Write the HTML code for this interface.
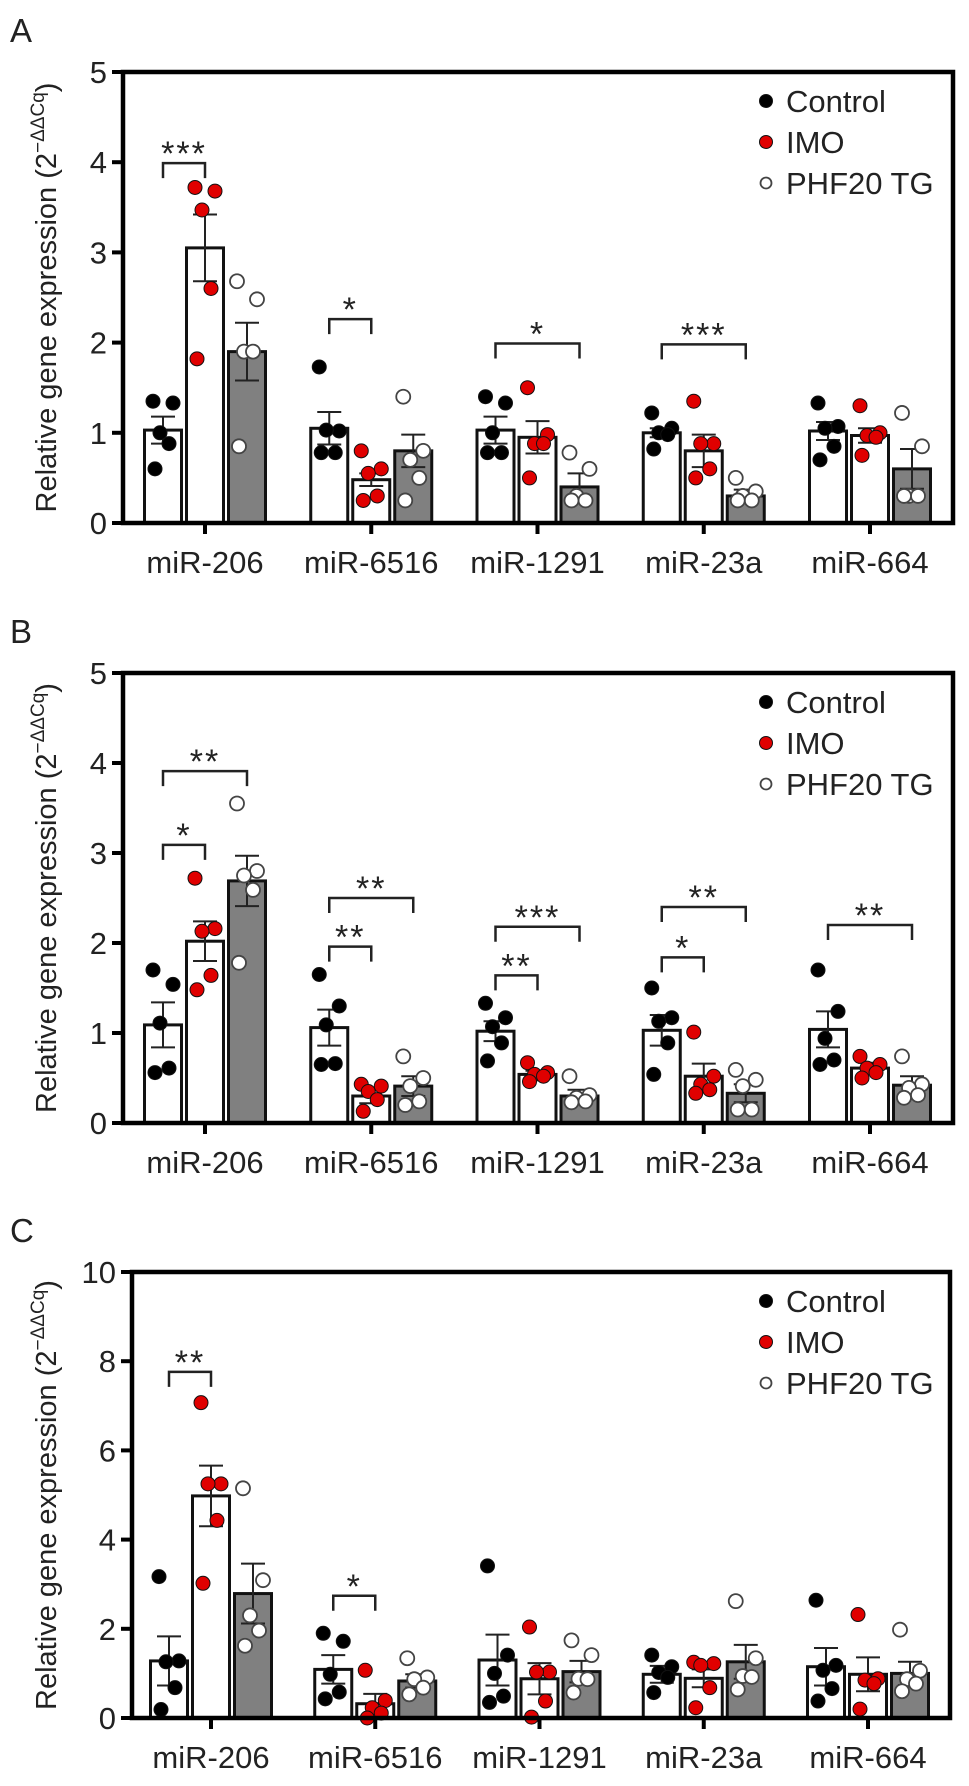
<!DOCTYPE html>
<html><head><meta charset="utf-8">
<style>
html,body{margin:0;padding:0;background:#fff;}
svg{display:block;font-family:"Liberation Sans",Arial,sans-serif;}
</style></head>
<body>
<svg id="fig" width="969" height="1786" viewBox="0 0 969 1786" xmlns="http://www.w3.org/2000/svg"></svg>
<script>
const categories = ["miR-206","miR-6516","miR-1291","miR-23a","miR-664"];
const groups = ["Control","IMO","PHF20 TG"];

// Panel A
const aMeans = [[1.03,3.05,1.9],[1.05,0.48,0.8],[1.03,0.95,0.4],[1.0,0.8,0.3],[1.02,0.97,0.6]];
const aSem = [[0.15,0.37,0.32],[0.18,0.07,0.18],[0.15,0.18,0.15],[0.05,0.18,0.07],[0.1,0.08,0.22]];
const aPoints = [
 [[1.35,1.33,1.0,0.88,0.6],[3.72,3.68,3.47,2.6,1.82],[2.68,2.48,1.9,1.9,0.85]],
 [[1.73,1.02,1.03,0.78,0.78],[0.8,0.6,0.55,0.3,0.25],[1.4,0.8,0.7,0.5,0.25]],
 [[1.4,1.33,1.0,0.78,0.78],[1.5,0.98,0.88,0.88,0.5],[0.78,0.6,0.3,0.25,0.25]],
 [[1.22,1.05,1.0,0.98,0.82],[1.35,0.88,0.88,0.6,0.5],[0.5,0.35,0.3,0.25,0.25]],
 [[1.33,1.07,1.05,0.85,0.7],[1.3,1.0,0.97,0.95,0.75],[1.22,0.85,0.3,0.3,0.3]]];
const aSig = [[0,1,3.99,"***"],[1,1,2.26,"*"],[2,2,1.99,"*"],[3,2,1.98,"***"]];
const aTicks = [0,1,2,3,4,5];

// Panel B
const bMeans = [[1.09,2.02,2.69],[1.06,0.30,0.41],[1.02,0.54,0.30],[1.03,0.52,0.33],[1.04,0.61,0.42]];
const bSem = [[0.25,0.22,0.28],[0.2,0.08,0.11],[0.11,0.04,0.07],[0.17,0.14,0.1],[0.2,0.06,0.1]];
const bPoints = [
 [[1.70,1.54,1.11,0.61,0.56],[2.72,2.16,2.13,1.64,1.48],[3.55,2.8,2.75,2.59,1.78]],
 [[1.65,1.3,1.09,0.66,0.65],[0.43,0.41,0.35,0.26,0.13],[0.74,0.5,0.41,0.24,0.2]],
 [[1.33,1.17,1.07,0.89,0.69],[0.67,0.56,0.54,0.52,0.46],[0.52,0.31,0.28,0.24,0.23]],
 [[1.5,1.17,1.13,0.89,0.54],[1.01,0.52,0.43,0.37,0.33],[0.59,0.48,0.41,0.15,0.15]],
 [[1.7,1.24,0.94,0.7,0.65],[0.74,0.65,0.61,0.56,0.5],[0.74,0.43,0.39,0.31,0.28]]];
const bSig = [[0,1,3.09,"*"],[0,2,3.91,"**"],[1,1,1.96,"**"],[1,2,2.5,"**"],[2,1,1.64,"**"],[2,2,2.18,"***"],[3,1,1.84,"*"],[3,2,2.4,"**"],[4,2,2.2,"**"]];
const bTicks = [0,1,2,3,4,5];

// Panel C
const cMeans = [[1.28,4.98,2.79],[1.09,0.32,0.83],[1.30,0.88,1.04],[0.98,0.89,1.26],[1.15,0.98,1.0]];
const cSem = [[0.55,0.68,0.67],[0.32,0.22,0.15],[0.57,0.35,0.24],[0.19,0.2,0.38],[0.42,0.38,0.26]];
const cPoints = [
 [[3.17,1.28,1.26,0.68,0.19],[7.07,5.25,5.25,4.43,3.02],[5.15,3.09,2.3,1.96,1.62]],
 [[1.9,1.72,0.98,0.58,0.43],[1.07,0.39,0.23,0.11,0.0],[1.34,0.91,0.87,0.68,0.53]],
 [[3.41,1.41,1.0,0.49,0.35],[2.04,1.03,1.03,0.38,0.02],[1.74,1.41,0.88,0.87,0.57]],
 [[1.41,1.15,1.02,0.91,0.57],[1.25,1.22,1.18,0.68,0.23],[2.62,1.34,0.94,0.92,0.64]],
 [[2.64,1.18,1.07,0.66,0.38],[2.32,0.88,0.85,0.77,0.2],[1.98,1.06,0.87,0.77,0.6]]];
const cSig = [[0,1,7.76,"**"],[1,1,2.74,"*"]];
const cTicks = [0,2,4,6,8,10];

const NS = "http://www.w3.org/2000/svg";
const svg = document.getElementById("fig");
function mk(tag, attrs, parent){
  const e = document.createElementNS(NS, tag);
  for (const k in attrs) e.setAttribute(k, attrs[k]);
  (parent||svg).appendChild(e);
  return e;
}
const jitter = [-10, 10, -3, 6, -8];
const fills = ["#000","#e00000","#fff"];
const barFill = ["#fff","#fff","#808080"];

function panel(cfg){
  const g = mk("g", {});
  
  
  const {left,right,top,bottom,ymax} = cfg;
  const y = v => bottom - (v/ymax)*(bottom-top);
  const first = cfg.first, last = cfg.last;
  const xc = i => first + i*(last-first)/(categories.length-1);
  const off = 42, bw = 37;
  const L = mk("text",{x:10,y:top-30,"font-size":33,fill:"#222"},g);
  L.textContent = cfg.letter;
  
  
  for (let i=0;i<categories.length;i++){
    for (let j=0;j<3;j++){
      const cx = xc(i) + (j-1)*off;
      const m = cfg.means[i][j], s = cfg.sem[i][j];
      const r = mk("rect",{x:cx-bw/2,y:y(m),width:bw,height:bottom-y(m),fill:barFill[j],stroke:"#111","stroke-width":3},g);
      
      
      const eb = mk("path",{d:`M${cx},${y(m+s)}V${y(Math.max(0,m-s))}M${cx-12},${y(m+s)}H${cx+12}M${cx-12},${y(Math.max(0,m-s))}H${cx+12}`,stroke:"#222","stroke-width":2,fill:"none"},g);
      
      
      cfg.points[i][j].forEach((v,k)=>{
        const c = mk("circle",{cx:cx+jitter[k],cy:y(v),r:7,fill:fills[j],stroke:j==2?"#444":"#111","stroke-width":j==2?1.8:1},g);
        
        
      });
    }
  }
  cfg.sig.forEach(sg=>{
    const [i,k,v,txt] = sg;
    const x1 = xc(i)-off, x2 = xc(i)+(k-1)*off, yy = y(v);
    const p = mk("path",{d:`M${x1},${yy+15}V${yy}H${x2}V${yy+15}`,stroke:"#222","stroke-width":2.5,fill:"none"},g);
    
    
    const t = mk("text",{x:(x1+x2)/2,y:yy+2,"font-size":34,"text-anchor":"middle",fill:"#222","letter-spacing":"2"},g);
    t.textContent = txt;
    
    
  });
  const fr = mk("rect",{x:left,y:top,width:right-left,height:bottom-top,fill:"none",stroke:"#000","stroke-width":4.5},g);
  
  
  cfg.ticks.forEach(tv=>{
    const tl = mk("line",{x1:left-11,x2:left,y1:y(tv),y2:y(tv),stroke:"#000","stroke-width":4},g);
    
    
    const tt = mk("text",{x:left-16,y:y(tv)+11,"font-size":31,"text-anchor":"end",fill:"#222"},g);
    tt.textContent = tv;
    
    
  });
  categories.forEach((c,i)=>{
    const tl = mk("line",{x1:xc(i),x2:xc(i),y1:bottom,y2:bottom+11,stroke:"#000","stroke-width":4},g);
    
    
    const tt = mk("text",{x:xc(i),y:bottom+50,"font-size":31,"text-anchor":"middle",fill:"#222"},g);
    tt.textContent = c;
    
    
  });
  const ymid = (top+bottom)/2;
  const yt = mk("text",{x:0,y:0,"font-size":29,"text-anchor":"middle",fill:"#222",transform:`translate(56,${ymid}) rotate(-90)`},g);
  
  
  yt.appendChild(document.createTextNode("Relative gene expression (2"));
  const sup = mk("tspan",{"font-size":19,dy:-12},yt);
  sup.textContent = "\u2212\u0394\u0394Cq";
  const cl = mk("tspan",{dy:12},yt);
  cl.textContent = ")";
  groups.forEach((gname,k)=>{
    const ly = top + 29 + k*41;
    const c = mk("circle",{cx:766,cy:ly,r:k==2?5.5:6.5,fill:fills[k],stroke:k==2?"#444":"#111","stroke-width":k==2?1.8:1},g);
    
    
    const t = mk("text",{x:786,y:ly+11,"font-size":31,fill:"#222"},g);
    t.textContent = gname;
    
    
  });
}

panel({letter:"A",left:123,right:953,top:72,bottom:523,ymax:5,first:205,last:870,means:aMeans,sem:aSem,points:aPoints,sig:aSig,ticks:aTicks});
panel({letter:"B",left:123,right:953,top:673,bottom:1123,ymax:5,first:205,last:870,means:bMeans,sem:bSem,points:bPoints,sig:bSig,ticks:bTicks});
panel({letter:"C",left:132,right:950,top:1272,bottom:1718,ymax:10,first:211,last:868,means:cMeans,sem:cSem,points:cPoints,sig:cSig,ticks:cTicks});
</script>
</body></html>
